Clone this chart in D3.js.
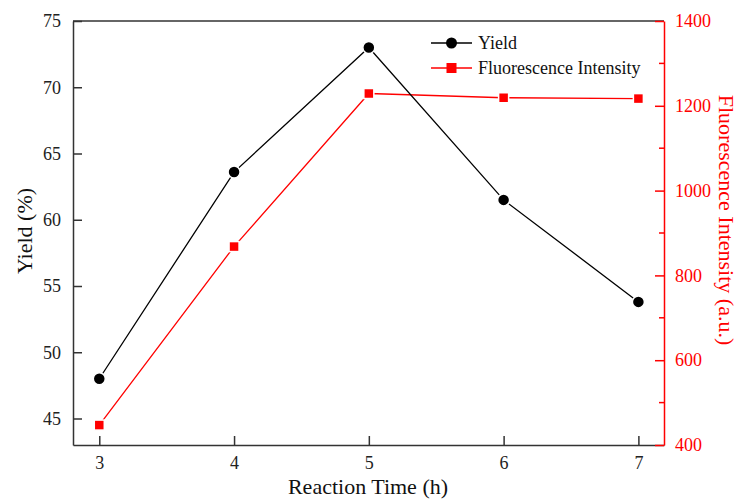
<!DOCTYPE html>
<html>
<head>
<meta charset="utf-8">
<script src="https://cdn.jsdelivr.net/npm/d3@7"></script>
<style>
  body { margin: 0; background: #fff; }
  svg text { font-family: "Liberation Serif", "Times New Roman", serif; }
</style>
</head>
<body>
<div id="the_chart"></div>
<script>
// data
var times = [3, 4, 5, 6, 7];
var yieldValues = [48.0, 63.6, 73.0, 61.5, 53.8];
var fluorValues = [447, 868, 1229, 1219, 1217];
var xTicks = [3, 4, 5, 6, 7];
var yTicks = [45, 50, 55, 60, 65, 70, 75];
var y2Ticks = [400, 600, 800, 1000, 1200, 1400];
var y2Minor = [500, 700, 900, 1100, 1300];

var w = 740, h = 500;
// plot box (note: "top" is taken by window.top, so use other names)
var pLeft = 73, pRight = 664, pTop = 21, pBottom = 445;
var serif = "Liberation Serif, Times New Roman, serif";

var svg = d3.select("#the_chart")
    .append("svg")
    .attr("width", w)
    .attr("height", h);

var xscale = d3.scaleLinear().domain([2.805, 7.19]).range([pLeft, pRight]);
var yscale = d3.scaleLinear().domain([43, 75]).range([pBottom, pTop]);
var y2scale = d3.scaleLinear().domain([400, 1400]).range([pBottom, pTop]);

// top border
svg.append("line")
    .attr("x1", pLeft).attr("x2", pRight)
    .attr("y1", pTop).attr("y2", pTop)
    .attr("stroke", "#333").attr("stroke-width", 1.5);

// x axis, ticks pointing up
var xaxis = d3.axisBottom(xscale)
    .tickValues(xTicks)
    .tickFormat(d3.format("d"))
    .tickSizeInner(-9)
    .tickSizeOuter(0)
    .tickPadding(11);
var gx = svg.append("g")
    .attr("transform", "translate(0," + pBottom + ")")
    .call(xaxis)
    .attr("font-family", serif);
gx.select(".domain").attr("stroke", "#333").attr("stroke-width", 1.5);
gx.selectAll(".tick line").attr("stroke", "#333").attr("stroke-width", 1.5);
gx.selectAll("text").attr("font-size", 18).attr("fill", "#222");

// left axis, ticks inward
var yaxis = d3.axisLeft(yscale)
    .tickValues(yTicks)
    .tickSizeInner(-9)
    .tickSizeOuter(0)
    .tickPadding(12);
var gy = svg.append("g")
    .attr("transform", "translate(" + pLeft + ",0)")
    .call(yaxis)
    .attr("font-family", serif);
gy.select(".domain").attr("stroke", "#333").attr("stroke-width", 1.5);
gy.selectAll(".tick line").attr("stroke", "#333").attr("stroke-width", 1.5);
gy.selectAll("text").attr("font-size", 18).attr("fill", "#222");

// right axis (red), ticks inward
var y2axis = d3.axisRight(y2scale)
    .tickValues(y2Ticks)
    .tickFormat(d3.format("d"))
    .tickSizeInner(-9)
    .tickSizeOuter(0)
    .tickPadding(11);
var gy2 = svg.append("g")
    .attr("transform", "translate(" + pRight + ",0)")
    .call(y2axis)
    .attr("font-family", serif);
gy2.select(".domain").attr("stroke", "red").attr("stroke-width", 1.5);
gy2.selectAll(".tick line").attr("stroke", "red").attr("stroke-width", 1.5);
gy2.selectAll("text").attr("font-size", 18).attr("fill", "red");

gy2.selectAll(".minor")
    .data(y2Minor)
    .enter().append("line")
    .attr("x1", -5).attr("x2", 0)
    .attr("y1", function(d) { return y2scale(d); })
    .attr("y2", function(d) { return y2scale(d); })
    .attr("stroke", "red").attr("stroke-width", 1.5);

// axis titles
svg.append("text")
    .attr("x", 368)
    .attr("y", 494)
    .attr("text-anchor", "middle")
    .attr("font-size", 22)
    .attr("fill", "#111")
    .text("Reaction Time (h)");

svg.append("text")
    .attr("transform", "translate(32,231) rotate(-90)")
    .attr("text-anchor", "middle")
    .attr("font-size", 22)
    .attr("fill", "#111")
    .text("Yield (%)");

svg.append("text")
    .attr("transform", "translate(719,220) rotate(90)")
    .attr("text-anchor", "middle")
    .attr("font-size", 22)
    .attr("fill", "red")
    .text("Fluorescence Intensity (a.u.)");

// lines
var yieldLine = d3.line()
    .x(function(d, i) { return xscale(times[i]); })
    .y(function(d) { return yscale(d); });
var fluorLine = d3.line()
    .x(function(d, i) { return xscale(times[i]); })
    .y(function(d) { return y2scale(d); });

svg.append("path")
    .datum(fluorValues)
    .attr("d", fluorLine)
    .attr("fill", "none")
    .attr("stroke", "red")
    .attr("stroke-width", 1.3);

svg.append("path")
    .datum(yieldValues)
    .attr("d", yieldLine)
    .attr("fill", "none")
    .attr("stroke", "black")
    .attr("stroke-width", 1.3);

// markers, white outline gives the small gap at the line ends
svg.selectAll(".sq")
    .data(fluorValues)
    .enter().append("rect")
    .attr("x", function(d, i) { return xscale(times[i]) - 5; })
    .attr("y", function(d) { return y2scale(d) - 5; })
    .attr("width", 10).attr("height", 10)
    .attr("fill", "red")
    .attr("stroke", "white").attr("stroke-width", 1.5);

svg.selectAll(".dot")
    .data(yieldValues)
    .enter().append("circle")
    .attr("cx", function(d, i) { return xscale(times[i]); })
    .attr("cy", function(d) { return yscale(d); })
    .attr("r", 6)
    .attr("fill", "black")
    .attr("stroke", "white").attr("stroke-width", 1.5);

// legend
var legend = svg.append("g");
var items = [
    { name: "Yield", color: "black", shape: "circle", y: 43 },
    { name: "Fluorescence Intensity", color: "red", shape: "square", y: 68 }
];
items.forEach(function(it) {
    legend.append("line")
        .attr("x1", 431).attr("x2", 472)
        .attr("y1", it.y).attr("y2", it.y)
        .attr("stroke", it.color).attr("stroke-width", 1.3);
    if (it.shape == "circle") {
        legend.append("circle")
            .attr("cx", 451.5).attr("cy", it.y).attr("r", 5.5)
            .attr("fill", it.color);
    } else {
        legend.append("rect")
            .attr("x", 446.5).attr("y", it.y - 5)
            .attr("width", 10).attr("height", 10)
            .attr("fill", it.color);
    }
    legend.append("text")
        .attr("x", 478).attr("y", it.y + 6)
        .attr("font-size", 18)
        .attr("fill", "#111")
        .text(it.name);
});
</script>
</body>
</html>
